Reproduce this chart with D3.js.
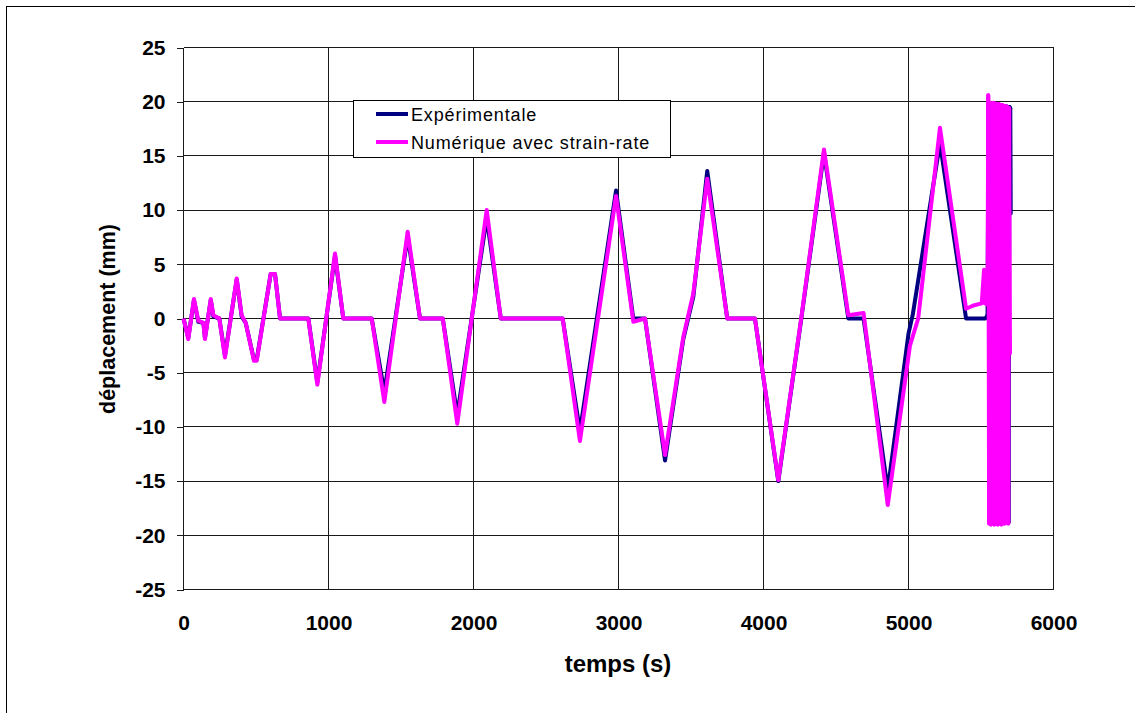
<!DOCTYPE html>
<html>
<head>
<meta charset="utf-8">
<script src="https://cdn.jsdelivr.net/npm/d3@7"></script>
<style>
  body { margin: 0; background: #fff; }
  svg { display: block; font-family: "Liberation Sans", Arial, sans-serif; }
</style>
</head>
<body>
<svg id="screen" width="1135" height="713"></svg>
<script>
// Axis ticks
var xTicks = [0, 1000, 2000, 3000, 4000, 5000, 6000];
var yTicks = [-25, -20, -15, -10, -5, 0, 5, 10, 15, 20, 25];

// Experimental displacement (s, mm)
var expT = [0, 33, 72, 102, 137, 148, 188, 206, 247, 286, 367, 401, 429, 486, 505, 601, 631, 666, 861, 923,
            1045, 1102, 1298, 1385, 1546, 1631, 1788, 1888, 2091, 2188, 2615, 2734, 2983, 3102, 3183, 3321,
            3447, 3516, 3612, 3750, 3941, 4102, 4263, 4417, 4585, 4690, 4857, 5000, 5030, 5217, 5397, 5530, 5545];
var expD = [0, -1.8, 1.7, -0.3, -0.4, -1.8, 1.7, 0.2, 0, -3.4, 3.6, 0.2, -0.4, -3.8, -3.8, 4.1, 4.1, 0, 0, -5.9,
            5.8, 0, 0, -6.8, 7.6, 0, 0, -8.9, 9.3, 0, 0, -10.4, 11.8, 0, 0, -13.1,
            -1.9, 2.0, 13.6, 0, 0, -15.0, 0.2, 15.3, 0, 0, -15.8, -1.4, 0.4, 16.2, 0, 0, 0.3];
// final cycling at the end of the test
var expBurstT = [5552, 5558, 5564, 5570, 5576, 5582, 5588, 5594, 5600, 5606, 5612, 5618, 5624, 5630,
                 5636, 5642, 5648, 5654, 5660, 5666, 5672, 5678, 5684, 5690, 5696, 5702, 5705];
var expBurstD = [19.8, -18.7, 19.8, -18.8, 19.7, -18.7, 19.8, -18.8, 19.7, -18.7, 19.7, -18.8, 19.7, -18.7,
                 19.6, -18.8, 19.6, -18.7, 19.6, -18.8, 19.6, -18.7, 19.5, -18.8, 19.5, 19.4, 9.7];

// Numerical displacement with strain-rate (s, mm)
var numT = [0, 33, 72, 102, 137, 148, 188, 206, 247, 286, 367, 401, 429, 486, 505, 601, 631, 666, 861, 923,
            1045, 1102, 1298, 1385, 1546, 1631, 1788, 1888, 2091, 2188, 2615, 2734, 2983, 3102, 3183, 3321,
            3447, 3516, 3612, 3750, 3941, 4102, 4263, 4417, 4585, 4690, 4857, 5010, 5067, 5217, 5397, 5447,
            5505, 5521, 5528, 5545];
var numD = [0, -1.9, 1.8, -0.2, -0.4, -1.9, 1.8, 0.3, 0, -3.6, 3.7, 0.3, -0.4, -3.9, -3.9, 4.1, 4.1, 0, 0, -6.1,
            6.0, 0, 0, -7.7, 8.0, 0, 0, -9.7, 10.0, 0, 0, -11.3, 11.3, -0.3, 0, -12.6,
            -1.7, 2.3, 12.9, 0, 0, -14.9, 0.3, 15.6, 0.3, 0.5, -17.2, -2.5, 0, 17.6, 0.9, 1.2,
            1.4, 4.5, 1.4, 1.3];
var numBurstT = [5550, 5556, 5562, 5568, 5574, 5580, 5586, 5592, 5598, 5604, 5610, 5616, 5622,
                 5628, 5634, 5640, 5646, 5652, 5658, 5664, 5670, 5676, 5682, 5688, 5694, 5700];
var numBurstD = [20.6, -18.9, 19.9, -19.0, 19.8, -18.9, 19.9, -19.0, 19.8, -18.9, 19.7, -19.0, 19.8,
                 -18.9, 19.7, -19.0, 19.7, -18.9, 19.6, -18.9, 19.6, -18.8, 19.5, -18.9, 19.4, -3.2];

var seriesNames = ["Expérimentale", "Numérique avec strain-rate"];
var seriesColors = ["#000080", "#ff00ff"];

function pairs(t, d) {
    return t.map(function(v, i){ return [v, d[i]]; });
}
var series = [
    { main: pairs(expT, expD), burst: pairs(expBurstT, expBurstD), color: seriesColors[0] },
    { main: pairs(numT, numD), burst: pairs(numBurstT, numBurstD), color: seriesColors[1] }
];

var svg = d3.select("#screen");

// outer frame (runs off the right and bottom edges)
svg.append("rect")
    .attr("x", 6.5).attr("y", 6.5)
    .attr("width", 1200).attr("height", 800)
    .attr("fill", "#fff").attr("stroke", "#000");

var plotL = 183.5, plotR = 1053.5, plotT = 47.5, plotB = 589.5;
var x = d3.scaleLinear().domain([0, 6000]).range([plotL, plotR]);
var y = d3.scaleLinear().domain([-25, 25]).range([plotB, plotT]);

function crisp(v) { return Math.round(v - 0.5) + 0.5; }

// grid
var grid = svg.append("g").attr("stroke", "#1a1a1a").attr("stroke-width", 1).attr("shape-rendering", "crispEdges");
grid.selectAll("line.h").data(yTicks).enter().append("line")
    .attr("x1", plotL).attr("x2", plotR)
    .attr("y1", function(d){ return crisp(y(d)); })
    .attr("y2", function(d){ return crisp(y(d)); });
grid.selectAll("line.v").data(xTicks).enter().append("line")
    .attr("y1", plotT).attr("y2", plotB)
    .attr("x1", function(d){ return crisp(x(d)); })
    .attr("x2", function(d){ return crisp(x(d)); });

// y axis: outward ticks + labels
var yAxis = svg.append("g")
    .attr("transform", "translate(" + plotL + ",0)")
    .call(d3.axisLeft(y).tickValues(yTicks).tickSize(7).tickPadding(11).tickFormat(function(d){ return String(d); }));
yAxis.select(".domain").remove();
yAxis.selectAll("line").attr("stroke", "#1a1a1a").attr("shape-rendering", "crispEdges");
yAxis.selectAll("text").attr("font-size", 21).attr("font-weight", "bold").attr("fill", "#000")
    .attr("font-family", "Liberation Sans, Arial, sans-serif");

// x axis labels
var xAxis = svg.append("g")
    .attr("transform", "translate(0," + plotB + ")")
    .call(d3.axisBottom(x).tickValues(xTicks).tickSize(0).tickPadding(26).tickFormat(function(d){ return String(d); }));
xAxis.select(".domain").remove();
xAxis.selectAll("text").attr("font-size", 21).attr("font-weight", "bold").attr("fill", "#000")
    .attr("font-family", "Liberation Sans, Arial, sans-serif");

// axis titles
svg.append("text")
    .attr("x", 618).attr("y", 672)
    .attr("text-anchor", "middle")
    .attr("font-size", 24).attr("font-weight", "bold")
    .text("temps (s)");
svg.append("text")
    .attr("transform", "translate(115,319) rotate(-90)")
    .attr("text-anchor", "middle")
    .attr("font-size", 21.5).attr("font-weight", "bold")
    .text("déplacement (mm)");

// curves: the test history as one path, the dense end cycling as separate
// segments so the overlapping strokes fill in solid
var line = d3.line().x(function(d){ return x(d[0]); }).y(function(d){ return y(d[1]); });
series.forEach(function(s){
    var g = svg.append("g")
        .attr("fill", "none")
        .attr("stroke", s.color)
        .attr("stroke-width", 4)
        .attr("stroke-linejoin", "round");
    g.append("path").datum(s.main).attr("d", line);
    var segs = d3.pairs([s.main[s.main.length - 1]].concat(s.burst));
    g.selectAll("path.seg").data(segs).enter().append("path")
        .attr("class", "seg")
        .attr("stroke-linecap", "round")
        .attr("d", function(p){ return line(p); });
});

// legend
var legend = svg.append("g");
legend.append("rect")
    .attr("x", 353.5).attr("y", 100.5).attr("width", 317).attr("height", 57)
    .attr("fill", "#fff").attr("stroke", "#000");
var items = legend.selectAll("g.item").data(seriesNames).enter().append("g")
    .attr("transform", function(d, i){ return "translate(0," + (114 + i * 28) + ")"; });
items.append("line")
    .attr("x1", 376).attr("x2", 408).attr("y1", 0).attr("y2", 0)
    .attr("stroke", function(d, i){ return seriesColors[i]; }).attr("stroke-width", 4);
items.append("text")
    .attr("x", 411).attr("y", 6.5)
    .attr("font-size", 18).attr("letter-spacing", 0.85)
    .text(function(d){ return d; });
</script>
</body>
</html>
